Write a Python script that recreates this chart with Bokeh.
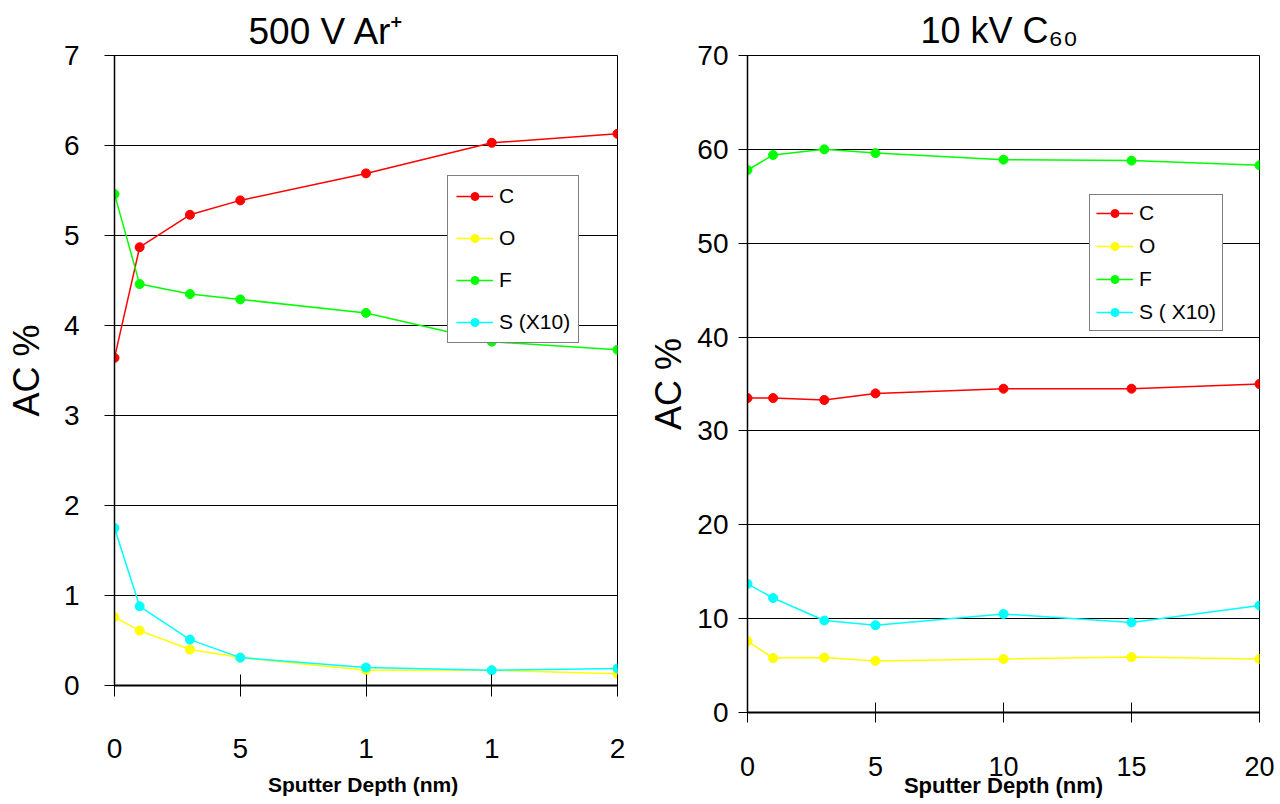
from bokeh.plotting import figure
from bokeh.layouts import row
from bokeh.models import Range1d, FixedTicker
from bokeh.embed import file_html
from bokeh.resources import INLINE

# ---------------- data ----------------
depth = [0, 1, 3, 5, 10, 15, 20]
series_names_left = ["C", "O", "F", "S (X10)"]
series_names_right = ["C", "O", "F", "S ( X10)"]
colors = ["#FF0000", "#FFFF00", "#00FF00", "#00FFFF"]

ar_C = [3.64, 4.87, 5.23, 5.39, 5.69, 6.03, 6.13]
ar_O = [0.76, 0.61, 0.40, 0.31, 0.17, 0.17, 0.13]
ar_F = [5.46, 4.46, 4.35, 4.29, 4.14, 3.82, 3.73]
ar_S = [1.75, 0.88, 0.51, 0.31, 0.20, 0.17, 0.19]

c60_C = [33.5, 33.5, 33.3, 34.0, 34.5, 34.5, 35.0]
c60_O = [7.6, 5.8, 5.85, 5.5, 5.7, 5.9, 5.7]
c60_F = [57.8, 59.4, 60.0, 59.6, 58.9, 58.8, 58.3]
c60_S = [13.7, 12.2, 9.8, 9.3, 10.5, 9.6, 11.4]

x_ticks = [0, 5, 10, 15, 20]
left_x_labels = {0: "0", 5: "5", 10: "1", 15: "1", 20: "2"}
left_y_ticks = [0, 1, 2, 3, 4, 5, 6, 7]
right_y_ticks = [0, 10, 20, 30, 40, 50, 60, 70]

FONT = "Liberation Sans"


def style_common(p):
    p.background_fill_color = "white"
    p.border_fill_color = "white"
    p.outline_line_color = "black"
    p.outline_line_width = 1
    p.xgrid.visible = False
    p.ygrid.grid_line_color = "black"
    p.ygrid.grid_line_width = 1
    for ax in (p.xaxis[0], p.yaxis[0]):
        ax.axis_line_color = "black"
        ax.major_tick_line_color = "black"
        ax.minor_tick_line_color = None
        ax.axis_label_text_font_style = "normal"
        ax.major_label_text_color = "black"
        ax.axis_label_text_color = "black"
    p.title.text_font = FONT
    p.title.text_font_style = "normal"
    p.title.text_color = "black"
    p.title.align = "left"


# ---------------- left panel ----------------
p1 = figure(frame_width=503, frame_height=630,
            min_border_left=114, min_border_right=23,
            min_border_top=55, min_border_bottom=112,
            x_range=Range1d(0, 20), y_range=Range1d(0, 7),
            output_backend="svg", toolbar_location=None, tools="",
            title="500 V Ar\u207a")
style_common(p1)
p1.title.text_font_size = "37px"
p1.title.offset = 134
p1.title.standoff = 8

for vals, name, col in zip([ar_C, ar_O, ar_F, ar_S], series_names_left, colors):
    p1.line(depth, vals, line_color=col, line_width=1.5, legend_label=name)
    p1.scatter(depth, vals, size=9, fill_color=col, line_color=col, legend_label=name)

xa = p1.xaxis[0]
xa.ticker = FixedTicker(ticks=x_ticks)
xa.major_label_overrides = left_x_labels
xa.major_tick_in = 11
xa.major_tick_out = 11
xa.major_label_standoff = 42
xa.major_label_text_font = FONT
xa.major_label_text_font_size = "28px"
xa.axis_line_width = 2
xa.axis_label = "Sputter  Depth (nm)"
xa.axis_label_text_font = FONT
xa.axis_label_text_font_style = "bold"
xa.axis_label_text_font_size = "21px"
xa.axis_label_standoff = 12

ya = p1.yaxis[0]
ya.ticker = FixedTicker(ticks=left_y_ticks)
ya.major_tick_in = 0
ya.major_tick_out = 10
ya.major_label_standoff = 25
ya.major_label_text_font = FONT
ya.major_label_text_font_size = "28px"
ya.major_label_text_baseline = "top"
ya.axis_line_width = 1.5
ya.axis_label = "AC %"
ya.axis_label_text_font = FONT
ya.axis_label_text_font_size = "36px"
ya.axis_label_standoff = 14

lg = p1.legend[0]
lg.location = (333, 342)
lg.border_line_color = "black"
lg.border_line_width = 1
lg.background_fill_color = "white"
lg.background_fill_alpha = 1
lg.padding = 8
lg.spacing = 18
lg.margin = 0
lg.glyph_width = 37
lg.glyph_height = 20
lg.label_height = 20
lg.label_standoff = 6
lg.label_text_font = FONT
lg.label_text_font_size = "21px"
lg.label_text_color = "black"

# ---------------- right panel ----------------
p2 = figure(frame_width=512, frame_height=657,
            min_border_left=107, min_border_right=21,
            min_border_top=55, min_border_bottom=86,
            x_range=Range1d(0, 20), y_range=Range1d(0, 70),
            output_backend="svg", toolbar_location=None, tools="",
            title="10 kV C\u2086\u2080")
style_common(p2)
p2.title.text_font_size = "36px"
p2.title.offset = 173
p2.title.standoff = 10

for vals, name, col in zip([c60_C, c60_O, c60_F, c60_S], series_names_right, colors):
    p2.line(depth, vals, line_color=col, line_width=1.5, legend_label=name)
    p2.scatter(depth, vals, size=9, fill_color=col, line_color=col, legend_label=name)

xb = p2.xaxis[0]
xb.ticker = FixedTicker(ticks=x_ticks)
xb.major_tick_in = 10
xb.major_tick_out = 10
xb.major_label_standoff = 34
xb.major_label_text_font = FONT
xb.major_label_text_font_size = "27px"
xb.axis_line_width = 2
xb.axis_label = "Sputter Depth (nm)"
xb.axis_label_text_font = FONT
xb.axis_label_text_font_style = "bold"
xb.axis_label_text_font_size = "22px"
xb.axis_label_standoff = -6

yb = p2.yaxis[0]
yb.ticker = FixedTicker(ticks=right_y_ticks)
yb.major_tick_in = 0
yb.major_tick_out = 9
yb.major_label_standoff = 10
yb.major_label_text_font = FONT
yb.major_label_text_font_size = "28px"
yb.major_label_text_baseline = "top"
yb.axis_line_width = 1.5
yb.axis_label = "AC %"
yb.axis_label_text_font = FONT
yb.axis_label_text_font_size = "36px"
yb.axis_label_standoff = 5

lg2 = p2.legend[0]
lg2.location = (342, 381)
lg2.border_line_color = "black"
lg2.border_line_width = 1
lg2.background_fill_color = "white"
lg2.background_fill_alpha = 1
lg2.padding = 6
lg2.spacing = 9
lg2.margin = 0
lg2.glyph_width = 37
lg2.glyph_height = 20
lg2.label_height = 20
lg2.label_standoff = 6
lg2.label_text_font = FONT
lg2.label_text_font_size = "21px"
lg2.label_text_color = "black"

layout = row(p1, p2, spacing=0)
open("out.html", "w").write(file_html(layout, INLINE))
